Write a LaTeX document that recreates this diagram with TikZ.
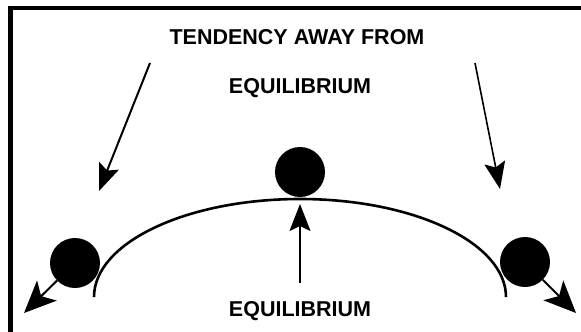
\documentclass[tikz,border=0pt]{standalone}
\usepackage{fontspec}
\setmainfont{Liberation Sans}
\usetikzlibrary{arrows.meta}
\begin{document}
\begin{tikzpicture}[x=1pt,y=-1pt,
  ball/.style={circle,fill=black,inner sep=0pt,minimum size=50pt},
  label/.style={font=\fontsize{21.5}{24}\selectfont\bfseries,inner sep=0pt},
  bigarrow/.style={line width=2pt,-{Stealth[length=32pt,width=28pt,inset=8pt]}},
  thinarrow/.style={line width=2pt,-{Stealth[length=27pt,width=21pt,inset=5pt]}}
]
\useasboundingbox (0,0) rectangle (581,332);
% frame
\draw[line width=4.5pt,line join=miter] (581,8) -- (10.5,8) -- (10.5,332);
% texts
\node[label] (t1) at (297,37) {TENDENCY AWAY FROM};
\node[label] (t2) at (300,88) {EQUILIBRIUM};
\node[label] (t3) at (300,311) {EQUILIBRIUM};
% arch
\draw[line width=2.6pt] (94,297) arc[start angle=180,end angle=0,x radius=206pt,y radius=98pt];
% balls
\node[ball] (lball) at (75,263) {};
\node[ball] (cball) at (300,172) {};
\node[ball] (rball) at (525,262) {};
% coordinates
\coordinate (ltip) at (24,313);
\coordinate (rtip) at (576,313);
\coordinate (tls) at (150,63);
\coordinate (tlt) at (99,191);
\coordinate (trs) at (475,63);
\coordinate (trt) at (500,189);
\coordinate (cs) at (300,283);
\coordinate (ct) at (300,204);
% arrows
\draw[bigarrow] (lball) -- (ltip);
\draw[bigarrow] (rball) -- (rtip);
\draw[thinarrow] (tls) -- (tlt);
\draw[thinarrow,line width=1.6pt] (trs) -- (trt);
\draw[thinarrow] (cs) -- (ct);
\end{tikzpicture}
\end{document}
